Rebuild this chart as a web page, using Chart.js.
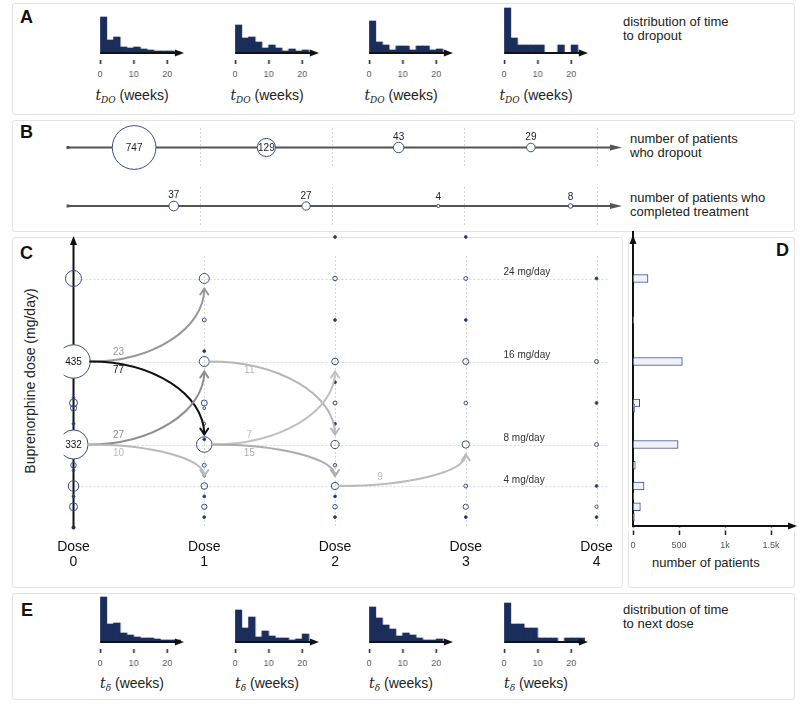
<!DOCTYPE html>
<html><head><meta charset="utf-8">
<script src="https://cdn.jsdelivr.net/npm/chart.js@4.4.0/dist/chart.umd.min.js"></script>
<style>
html,body{margin:0;padding:0;background:#fff;}
body{width:800px;height:706px;position:relative;overflow:hidden;font-family:"Liberation Sans",Arial,Helvetica,sans-serif;color:#222;}
.panel{position:absolute;border:1px solid #e3e3e3;border-radius:3px;box-sizing:border-box;}
.letter{position:absolute;font-weight:bold;font-size:18px;line-height:19px;color:#111;}
.note{position:absolute;font-size:13px;line-height:14px;color:#222;white-space:nowrap;}
canvas{position:absolute;}
.xt{position:absolute;font-size:14px;line-height:16px;color:#222;text-align:center;width:120px;white-space:nowrap;}
.xt i{font-family:"DejaVu Serif","Liberation Serif",serif;font-style:italic;font-size:14px;}
.xt sub{font-family:"DejaVu Serif","Liberation Serif",serif;font-style:italic;font-size:9px;line-height:0;vertical-align:-3px;}
.ytitle{position:absolute;font-size:14px;line-height:16px;width:220px;text-align:center;transform:rotate(-90deg);white-space:nowrap;color:#222;}
</style></head><body>
<div class="panel" style="left:12px;top:3px;width:783px;height:112px"></div>
<div class="panel" style="left:12px;top:120px;width:783px;height:112px"></div>
<div class="panel" style="left:12px;top:237px;width:611px;height:351px"></div>
<div class="panel" style="left:628px;top:237px;width:167px;height:351px"></div>
<div class="panel" style="left:12px;top:593px;width:783px;height:107px"></div>
<div class="letter" style="left:20px;top:8px">A</div>
<div class="letter" style="left:20px;top:123px">B</div>
<div class="letter" style="left:20px;top:244px">C</div>
<div class="letter" style="left:776px;top:241px">D</div>
<div class="letter" style="left:21px;top:601px">E</div>
<div class="note" style="left:623px;top:15px">distribution of time<br>to dropout</div>
<div class="note" style="left:623px;top:603px">distribution of time<br>to next dose</div>
<div class="note" style="left:630px;top:132px">number of patients<br>who dropout</div>
<div class="note" style="left:630px;top:191px">number of patients who<br>completed treatment</div>
<div class="ytitle" style="left:-80px;top:373px">Buprenorphine dose (mg/day)</div>
<div class="note" style="left:652px;top:556px">number of patients</div>
<script>
// ---------------- data ----------------
const histBinCenters = [1,3,5,7,9,11,13,15,17,19,21,23];   // weeks
const histTicks = [0,10,20];
const dropoutHist1 = [36,13,16,6,5,6,4,3,2,2,2,1];
const dropoutHist2 = [28,15,16,11,5,8,5,2,4,2,3,0];
const dropoutHist3 = [32,11,8,3,7,7,3,7,7,3,4,0];
const dropoutHist4 = [45,15,8,8,8,8,0,0,8,0,8,0];
const nextDoseHist1 = [45,18,19,9,7,5,4,4,3,2,2,2];
const nextDoseHist2 = [32,14,25,5,11,6,4,4,2,3,8,0];
const nextDoseHist3 = [35,24,17,13,6,9,7,4,2,2,3,0];
const nextDoseHist4 = [39,18,18,14,14,4,4,4,0,4,4,4];

const dropoutPositions = [0.5,1.5,2.5,3.5];
const dropoutCounts = [747,129,43,29];
const completedPositions = [0.8,1.8,2.8,3.8];
const completedCounts = [37,27,4,8];

const doseSteps = [0,1,2,3,4];
const doseLabels = ['0','1','2','3','4'];
const dose0Mg = [24,17,16,12.5,12,11.5,10,9,8,6,5.5,4,3,2];
const dose0Counts = [100,1,435,3,25,14,1,1,332,12,3,44,1,25];
const dose1Mg = [24,20,17,16,12,11.5,10,8.5,8,6,5,4,3,2,1];
const dose1Counts = [39,6,1,39,14,3,3,1,95,6,1,17,2,11,1];
const dose2Mg = [28,24,20,16,14,12,10,8,6,4,3,2,1];
const dose2Counts = [1,8,1,17,1,6,1,27,5,21,2,8,1];
const dose3Mg = [28,24,20,16,12,8,4,2,1];
const dose3Counts = [1,6,1,14,5,21,6,11,1];
const dose4Mg = [24,16,12,8,4,2,1];
const dose4Counts = [1,6,1,6,1,4,1];

const flowFromDose = [0,0,0,0,1,1,1,2];
const flowFromMg = [16,16,8,8,16,8,8,4];
const flowToMg = [24,8,16,4,8,16,4,8];
const flowCounts = [23,77,27,10,11,7,15,9];

const mgGridLevels = [24,16,8,4];
const mgGridLabels = ['24 mg/day','16 mg/day','8 mg/day','4 mg/day'];

const totalMg = [24,20,16,12,11.5,8,6,4,3,2,1];
const totalPatients = [163,3,536,73,18,490,25,120,5,80,15];
const patientTicks = [0,500,1000,1500];

// ---------------- styles / layout ----------------
const FONT = '"Liberation Sans", Arial, Helvetica, sans-serif';
Chart.defaults.font.family = FONT;
const NAVY = '#1b2d5b';
const RING = '#3a4c8a';
const X0 = 68, XS = 132.25;          // dose 0 pixel, pixels per dose step
const MG0 = 527.5, MGS = 10.375;     // 0 mg pixel, pixels per mg
const doseRange = (l, r) => ({min: (l - X0) / XS, max: (r - X0) / XS});
const mgRange = (t, b) => ({min: (MG0 - b) / MGS, max: (MG0 - t) / MGS});
const radiusFor = n => 0.8 * Math.sqrt(n);
const dotRadius = n => n <= 2 ? 1.4 : radiusFor(n);
const flowColor = n => { const g = Math.round(Math.max(17, Math.min(195, 192 - 2.5 * (n - 7)))); return `rgb(${g},${g},${g})`; };

function mk(left, top, w, h, z) {
  const c = document.createElement('canvas');
  c.width = w; c.height = h;
  c.style.left = left + 'px'; c.style.top = top + 'px';
  c.style.width = w + 'px'; c.style.height = h + 'px';
  if (z) c.style.zIndex = String(z);
  document.body.appendChild(c);
  return c;
}
function arrowHead(ctx, x, y, dir, len, half, color) {
  ctx.save(); ctx.fillStyle = color; ctx.beginPath();
  if (dir === 'right') { ctx.moveTo(x, y); ctx.lineTo(x - len, y - half); ctx.lineTo(x - len, y + half); }
  else { ctx.moveTo(x, y); ctx.lineTo(x - half, y + len); ctx.lineTo(x + half, y + len); }
  ctx.closePath(); ctx.fill(); ctx.restore();
}
function addTitle(cx, top, sub) {
  const d = document.createElement('div');
  d.className = 'xt'; d.style.left = (cx - 60) + 'px'; d.style.top = top + 'px';
  d.innerHTML = '<i>t</i><sub>' + sub + '</sub> (weeks)';
  document.body.appendChild(d);
}

// ---------------- histograms (A, E) ----------------
function makeHist(tick0X, baselineY, values) {
  const PXW = 3.35, pad = 10, axisH = 24, topU = 50, botU = 7;
  const areaW = 25 * PXW, areaH = topU + botU;
  const canvas = mk(tick0X - pad, baselineY - topU - pad, areaW + 2 * pad, pad + areaH + axisH);
  new Chart(canvas, {
    type: 'bar',
    data: { datasets: [{
      data: histBinCenters.map((x, i) => ({x, y: values[i]})),
      backgroundColor: NAVY, borderWidth: 0, barPercentage: 1, categoryPercentage: 1
    }]},
    options: {
      responsive: false, animation: false,
      layout: { autoPadding: false, padding: { left: pad, right: pad, top: pad, bottom: 0 } },
      plugins: { legend: {display: false}, tooltip: {enabled: false} },
      scales: {
        x: { type: 'linear', min: 0, max: 25, offset: false,
          afterBuildTicks: s => { s.ticks = histTicks.map(v => ({value: v})); },
          afterFit: s => { s.height = axisH; },
          ticks: { font: {size: 9}, color: '#555', padding: 5, maxRotation: 0, autoSkip: false },
          grid: { drawOnChartArea: false, drawTicks: true, tickLength: 4, tickColor: '#222', tickWidth: 1.5, offset: false },
          border: { display: false } },
        y: { display: false, min: -botU, max: topU }
      }
    },
    plugins: [{ id: 'histAxis', afterDatasetsDraw(chart) {
      const {ctx, scales: {x, y}} = chart;
      const y0 = y.getPixelForValue(0), xs = x.getPixelForValue(0), xe = x.getPixelForValue(25);
      ctx.save(); ctx.strokeStyle = '#111'; ctx.lineWidth = 2;
      ctx.beginPath(); ctx.moveTo(xs, y0); ctx.lineTo(xe - 6, y0); ctx.stroke(); ctx.restore();
      arrowHead(ctx, xe, y0, 'right', 9, 3.5, '#111');
    }}]
  });
}
const histX = [100, 235, 369, 504];
[dropoutHist1, dropoutHist2, dropoutHist3, dropoutHist4].forEach((v, i) => { makeHist(histX[i], 53, v); addTitle(histX[i] + 32, 87, 'DO'); });
[nextDoseHist1, nextDoseHist2, nextDoseHist3, nextDoseHist4].forEach((v, i) => { makeHist(histX[i], 642, v); addTitle(histX[i] + 32, 675, 'δ'); });

// ---------------- B tracks ----------------
function makeTrack(areaTop, areaBottom, positions, counts) {
  const left = 58, right = 622, padL = 10, padR = 14, padT = 14, padB = 4;
  const canvas = mk(left - padL, areaTop - padT, (right - left) + padL + padR, (areaBottom - areaTop) + padT + padB);
  const rng = doseRange(left, right);
  new Chart(canvas, {
    type: 'bubble',
    data: { datasets: [{
      data: positions.map((x, i) => ({x, y: 0, r: radiusFor(counts[i]), n: counts[i]})),
      backgroundColor: '#ffffff', borderColor: RING, borderWidth: 1, clip: false
    }]},
    options: {
      responsive: false, animation: false,
      layout: { autoPadding: false, padding: { left: padL, right: padR, top: padT, bottom: padB } },
      plugins: { legend: {display: false}, tooltip: {enabled: false} },
      scales: {
        x: { type: 'linear', min: rng.min, max: rng.max,
          afterBuildTicks: s => { s.ticks = doseSteps.slice(1).map(v => ({value: v})); },
          afterFit: s => { s.height = 0; },
          ticks: { display: false },
          grid: { color: '#d6d6d6', lineWidth: 1, drawTicks: false },
          border: { display: false, dash: [2, 2] } },
        y: { display: false, min: -1, max: 1 }
      }
    },
    plugins: [{ id: 'track',
      beforeDatasetsDraw(chart) {
        const {ctx, scales: {x, y}} = chart;
        const y0 = y.getPixelForValue(0), xs = x.getPixelForValue(0), xe = x.getPixelForValue(rng.max);
        ctx.save(); ctx.strokeStyle = '#555'; ctx.lineWidth = 2;
        ctx.beginPath(); ctx.moveTo(xs, y0); ctx.lineTo(xe - 8, y0); ctx.stroke();
        ctx.fillStyle = '#555'; ctx.fillRect(xs - 1.5, y0 - 1.5, 3, 3);
        ctx.restore();
        arrowHead(ctx, xe, y0, 'right', 12, 3, '#555');
      },
      afterDatasetsDraw(chart) {
        const {ctx} = chart;
        const meta = chart.getDatasetMeta(0);
        ctx.save(); ctx.fillStyle = '#222'; ctx.font = '10px ' + FONT; ctx.textAlign = 'center'; ctx.textBaseline = 'middle';
        meta.data.forEach((el, i) => {
          const r = radiusFor(counts[i]);
          if (r > 8) ctx.fillText(String(counts[i]), el.x, el.y + 0.5);
          else ctx.fillText(String(counts[i]), el.x, el.y - Math.max(r, 3.5) - 5.5);
        });
        ctx.restore();
      }
    }]
  });
}
makeTrack(128, 167, dropoutPositions, dropoutCounts);
makeTrack(187, 225, completedPositions, completedCounts);

// ---------------- C main ----------------
const columns = [[dose0Mg, dose0Counts], [dose1Mg, dose1Counts], [dose2Mg, dose2Counts], [dose3Mg, dose3Counts], [dose4Mg, dose4Counts]];
const countAt = (d, mg) => { const [m, c] = columns[d]; return c[m.indexOf(mg)]; };
(function () {
  const left = 58, right = 612, top = 232, bottom = 530, padL = 10, padR = 10, padT = 10, axisH = 40;
  const canvas = mk(left - padL, top - padT, (right - left) + padL + padR, padT + (bottom - top) + axisH);
  const xr = doseRange(left, right), yr = mgRange(top, bottom);
  const datasets = columns.map(([mgs, cnts], d) => ({
    data: mgs.map((mg, i) => ({x: doseSteps[d], y: mg, r: dotRadius(cnts[i]), n: cnts[i]})),
    backgroundColor: ctx => { const n = ctx.raw ? ctx.raw.n : 0; return n <= 2 ? NAVY : (n >= 300 ? '#ffffff' : 'rgba(255,255,255,0)'); },
    borderColor: RING, borderWidth: 1
  }));
  new Chart(canvas, {
    type: 'bubble',
    data: { datasets },
    options: {
      responsive: false, animation: false,
      layout: { autoPadding: false, padding: { left: padL, right: padR, top: padT, bottom: 0 } },
      plugins: { legend: {display: false}, tooltip: {enabled: false} },
      scales: {
        x: { type: 'linear', min: xr.min, max: xr.max,
          afterBuildTicks: s => { s.ticks = doseSteps.map(v => ({value: v})); },
          afterFit: s => { s.height = axisH; },
          ticks: { font: {size: 14, lineHeight: 1.1}, color: '#111', padding: 9, maxRotation: 0, autoSkip: false,
            callback: v => ['Dose', doseLabels[doseSteps.indexOf(v)]] },
          grid: { display: false, drawTicks: false },
          border: { display: false } },
        y: { display: false, min: yr.min, max: yr.max }
      }
    },
    plugins: [{ id: 'cDecor',
      beforeDatasetsDraw(chart) {
        const {ctx, scales: {x, y}, chartArea} = chart;
        ctx.save();
        ctx.strokeStyle = '#d8d8d8'; ctx.lineWidth = 1; ctx.setLineDash([2, 2]);
        mgGridLevels.forEach(v => {
          const py = Math.round(y.getPixelForValue(v)) + 0.5;
          ctx.beginPath(); ctx.moveTo(x.getPixelForValue(0), py); ctx.lineTo(chartArea.right - 2, py); ctx.stroke();
        });
        doseSteps.slice(1).forEach(d => {
          const px = Math.round(x.getPixelForValue(d)) + 0.5;
          ctx.beginPath(); ctx.moveTo(px, chartArea.top + 24); ctx.lineTo(px, y.getPixelForValue(0)); ctx.stroke();
        });
        ctx.setLineDash([]);
        const ax = x.getPixelForValue(0), ay0 = y.getPixelForValue(0), ayTop = chartArea.top + 4;
        ctx.strokeStyle = '#111'; ctx.lineWidth = 2;
        ctx.beginPath(); ctx.moveTo(ax, ay0); ctx.lineTo(ax, ayTop + 6); ctx.stroke();
        arrowHead(ctx, ax, ayTop, 'up', 9, 3.5, '#111');
        ctx.fillStyle = NAVY; ctx.beginPath(); ctx.arc(ax, ay0, 2, 0, 2 * Math.PI); ctx.fill();
        ctx.font = '10px ' + FONT; ctx.fillStyle = '#333'; ctx.textBaseline = 'middle'; ctx.textAlign = 'left';
        mgGridLevels.forEach((v, i) => ctx.fillText(mgGridLabels[i], x.getPixelForValue(0) + 430, y.getPixelForValue(v) - 6));
        ctx.restore();
      },
      afterDatasetsDraw(chart) {
        const {ctx, scales: {x, y}} = chart;
        ctx.save();
        ctx.lineWidth = 2; ctx.lineCap = 'round'; ctx.lineJoin = 'round';
        ctx.font = '10px ' + FONT; ctx.textAlign = 'center'; ctx.textBaseline = 'middle';
        flowCounts.forEach((n, i) => {
          const d = flowFromDose[i];
          const sx = x.getPixelForValue(d) + radiusFor(countAt(d, flowFromMg[i]));
          const sy = y.getPixelForValue(flowFromMg[i]);
          const ex = x.getPixelForValue(d + 1);
          const ty = y.getPixelForValue(flowToMg[i]);
          const down = ty > sy;
          const ey = down ? ty - 10 : ty + 10;
          const col = flowColor(n);
          ctx.strokeStyle = col;
          ctx.beginPath(); ctx.moveTo(sx, sy);
          ctx.bezierCurveTo(sx + 0.55 * (ex - sx), sy, ex, ey - 0.55 * (ey - sy), ex, ey);
          ctx.stroke();
          const dir = down ? -1 : 1;
          ctx.beginPath(); ctx.moveTo(ex - 4, ey + dir * 6); ctx.lineTo(ex, ey); ctx.lineTo(ex + 4, ey + dir * 6); ctx.stroke();
          ctx.fillStyle = col;
          ctx.fillText(String(n), x.getPixelForValue(d) + 45, sy + (down ? 9 : -9));
        });
        ctx.fillStyle = '#111';
        chart.data.datasets.forEach((ds, di) => {
          chart.getDatasetMeta(di).data.forEach((el, i) => {
            const n = ds.data[i].n;
            if (n >= 300) ctx.fillText(String(n), el.x, el.y + 0.5);
          });
        });
        ctx.restore();
      }
    }]
  });
})();

// ---------------- D totals ----------------
(function () {
  const left = 633, right = 790, top = 232, bottom = 526, padL = 10, padR = 10, padT = 10, axisH = 28;
  const canvas = mk(left - padL, top - padT, (right - left) + padL + padR, padT + (bottom - top) + axisH, 20);
  const yr = mgRange(top, bottom);
  const xMax = (right - left) / 0.092;
  new Chart(canvas, {
    type: 'bar',
    data: { datasets: [{
      data: totalMg.map((mg, i) => ({x: totalPatients[i], y: mg})),
      backgroundColor: '#eef1f8', borderColor: RING, borderWidth: 1, barThickness: 8
    }]},
    options: {
      indexAxis: 'y', responsive: false, animation: false,
      layout: { autoPadding: false, padding: { left: padL, right: padR, top: padT, bottom: 0 } },
      plugins: { legend: {display: false}, tooltip: {enabled: false} },
      scales: {
        x: { type: 'linear', min: 0, max: xMax,
          afterBuildTicks: s => { s.ticks = patientTicks.map(v => ({value: v})); },
          afterFit: s => { s.height = axisH; },
          ticks: { font: {size: 9}, color: '#555', padding: 5, maxRotation: 0, autoSkip: false,
            callback: v => v >= 1000 ? (v / 1000) + 'k' : String(v) },
          grid: { drawOnChartArea: false, drawTicks: true, tickLength: 9, tickColor: '#222', tickWidth: 1.5 },
          border: { display: true, color: '#111', width: 2 } },
        y: { type: 'linear', min: yr.min, max: yr.max, offset: false,
          afterFit: s => { s.width = 0; },
          ticks: { display: false },
          grid: { display: true, drawOnChartArea: false, drawTicks: false },
          border: { display: true, color: '#111', width: 2 } }
      }
    },
    plugins: [{ id: 'dAxes', afterDraw(chart) {
      const {ctx, chartArea} = chart;
      ctx.save();
      ctx.fillStyle = '#ffffff';
      ctx.fillRect(chartArea.left - 6, chartArea.bottom + 1.5, chartArea.right - chartArea.left + 12, 3);
      ctx.strokeStyle = '#111'; ctx.lineWidth = 2;
      ctx.beginPath(); ctx.moveTo(chartArea.left - 1, chartArea.bottom); ctx.lineTo(chartArea.right + 2, chartArea.bottom); ctx.stroke();
      ctx.restore();
      arrowHead(ctx, chartArea.left, chartArea.top + 3, 'up', 9, 3.5, '#111');
      arrowHead(ctx, chartArea.right + 7, chartArea.bottom, 'right', 9, 3.5, '#111');
    }}]
  });
})();
</script>
</body></html>
